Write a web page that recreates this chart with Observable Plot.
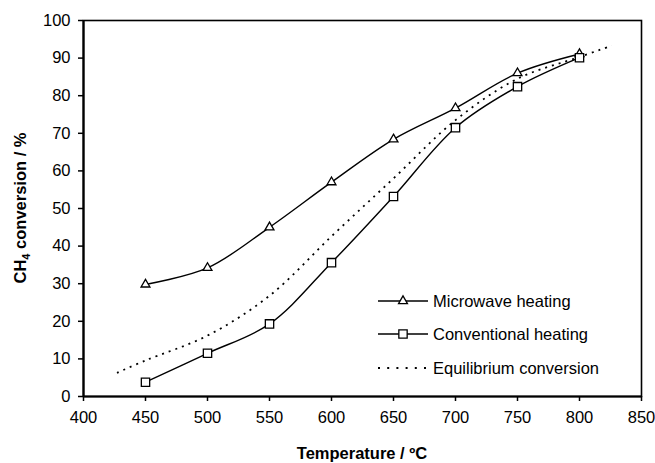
<!DOCTYPE html>
<html>
<head>
<meta charset="utf-8">
<script src="https://cdn.jsdelivr.net/npm/d3@7"></script>
<script src="https://cdn.jsdelivr.net/npm/@observablehq/plot@0.6"></script>
<style>
  html, body { margin: 0; padding: 0; background: white; }
  #chart { width: 655px; height: 463px; }
</style>
</head>
<body>
<div id="chart"></div>
<script>
// ---- data ----
const temps = [450, 500, 550, 600, 650, 700, 750, 800];
const microwave = [29.8, 34.2, 45.0, 57.0, 68.4, 76.7, 86.0, 91.1];
const conventional = [3.8, 11.5, 19.3, 35.6, 53.2, 71.5, 82.4, 90.1];
const eqTemps = [427, 450, 500, 550, 600, 650, 700, 750, 800, 826];
const eqValues = [6.3, 9.6, 16.2, 26.8, 42.6, 58.0, 73.5, 84.5, 90.3, 93.3];
const xTicks = [400, 450, 500, 550, 600, 650, 700, 750, 800, 850];
const yTicks = [0, 10, 20, 30, 40, 50, 60, 70, 80, 90, 100];
const seriesNames = ["Microwave heating", "Conventional heating", "Equilibrium conversion"];
const xTitle = "Temperature / \u00BAC";

const mw = temps.map((t, i) => ({t, v: microwave[i]}));
const cv = temps.map((t, i) => ({t, v: conventional[i]}));
const eq = eqTemps.map((t, i) => ({t, v: eqValues[i]}));

const font = "'Liberation Sans', Arial, Helvetica, sans-serif";

const chart = Plot.plot({
  width: 655,
  height: 463,
  marginLeft: 83,
  marginRight: 14,
  marginTop: 20,
  marginBottom: 67,
  style: {fontFamily: font, fontSize: "16.5px", color: "black", background: "white"},
  x: {domain: [400, 850]},
  y: {domain: [0, 100]},
  marks: [
    Plot.frame({stroke: "black", strokeWidth: 1.6}),
    Plot.axisX({ticks: xTicks, tickSize: 5, tickPadding: 10, tickFormat: d => String(d), label: null, strokeWidth: 1.5, fontSize: 16.5}),
    Plot.axisY({ticks: yTicks, tickSize: 5, tickPadding: 8, tickFormat: d => String(d), label: null, strokeWidth: 1.5, fontSize: 16.5}),
    Plot.ruleX([400], {stroke: "black", strokeWidth: 2.2}),
    Plot.ruleY([0], {stroke: "black", strokeWidth: 2.2}),
    Plot.line(eq, {x: "t", y: "v", curve: "catmull-rom", stroke: "black", strokeWidth: 1.8, strokeDasharray: "2,5", strokeLinecap: "butt"}),
    Plot.line(mw, {x: "t", y: "v", curve: "catmull-rom", stroke: "black", strokeWidth: 1.4}),
    Plot.line(cv, {x: "t", y: "v", curve: "catmull-rom", stroke: "black", strokeWidth: 1.4}),
    Plot.dot(mw, {x: "t", y: "v", symbol: "triangle", r: 3.3, fill: "white", stroke: "black", strokeWidth: 1.3}),
    Plot.dot(cv, {x: "t", y: "v", symbol: "square", r: 4.7, fill: "white", stroke: "black", strokeWidth: 1.3})
  ]
});
document.getElementById("chart").appendChild(chart);

const svg = d3.select(chart);

// x-axis title
svg.append("text")
  .attr("x", 362).attr("y", 459)
  .attr("text-anchor", "middle")
  .attr("font-family", font).attr("font-size", 16.5).attr("font-weight", "bold")
  .attr("fill", "black")
  .text(xTitle);

// y-axis title with subscript
const yt = svg.append("text")
  .attr("transform", "translate(26,208) rotate(-90)")
  .attr("text-anchor", "middle")
  .attr("font-family", font).attr("font-size", 16.5).attr("font-weight", "bold")
  .attr("fill", "black");
yt.append("tspan").text("CH");
yt.append("tspan").attr("font-size", 11).attr("dy", 4).text("4");
yt.append("tspan").attr("dy", -4).text(" conversion / %");

// legend
const lg = svg.append("g").attr("font-family", font).attr("font-size", 16.5).attr("text-anchor", "start");
const rows = [301, 334, 368];
const lx0 = 378, lx1 = 428, lxm = 403, tx = 433;
// microwave
lg.append("line").attr("x1", lx0).attr("x2", lx1).attr("y1", rows[0]).attr("y2", rows[0]).attr("stroke", "black").attr("stroke-width", 1.4);
lg.append("path").attr("d", d3.symbol(d3.symbolTriangle, Math.PI * 3.3 * 3.3)()).attr("transform", `translate(${lxm},${rows[0]})`).attr("fill", "white").attr("stroke", "black").attr("stroke-width", 1.3);
// conventional
lg.append("line").attr("x1", lx0).attr("x2", lx1).attr("y1", rows[1]).attr("y2", rows[1]).attr("stroke", "black").attr("stroke-width", 1.4);
lg.append("path").attr("d", d3.symbol(d3.symbolSquare, Math.PI * 4.7 * 4.7)()).attr("transform", `translate(${lxm},${rows[1]})`).attr("fill", "white").attr("stroke", "black").attr("stroke-width", 1.3);
// equilibrium
lg.append("line").attr("x1", lx0).attr("x2", lx1).attr("y1", rows[2]).attr("y2", rows[2]).attr("stroke", "black").attr("stroke-width", 1.8).attr("stroke-dasharray", "2,7.2");
seriesNames.forEach((n, i) => {
  lg.append("text").attr("x", tx).attr("y", rows[i]).attr("dy", "0.36em").attr("text-anchor", "start").attr("fill", "black").text(n);
});
</script>
</body>
</html>
